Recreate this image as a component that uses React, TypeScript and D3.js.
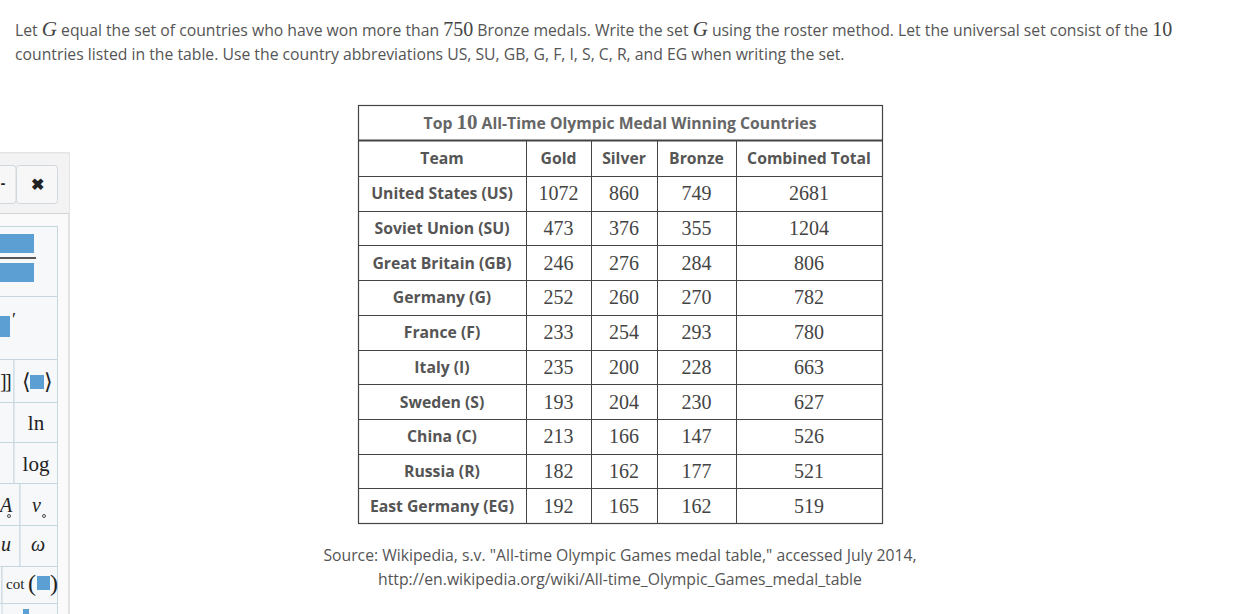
import React from "react";
import * as d3 from "d3";

const teams = [
  "United States (US)",
  "Soviet Union (SU)",
  "Great Britain (GB)",
  "Germany (G)",
  "France (F)",
  "Italy (I)",
  "Sweden (S)",
  "China (C)",
  "Russia (R)",
  "East Germany (EG)",
];
const gold = [1072, 473, 246, 252, 233, 235, 193, 213, 182, 192];
const silver = [860, 376, 276, 260, 254, 200, 204, 166, 162, 165];
const bronze = [749, 355, 284, 270, 293, 228, 230, 147, 177, 162];
const combined = [2681, 1204, 806, 782, 780, 663, 627, 526, 521, 519];
const columns = ["Team", "Gold", "Silver", "Bronze", "Combined Total"];

const W = 1259;
const H = 614;
const SANS = "'Open Sans', 'Noto Sans', sans-serif";
const SERIF = "'Liberation Serif', 'DejaVu Serif', serif";
const TEXT = "#555";
const LINE = "#444";
const FS = 15.75;

// layout
const tableLeft = 358;
const colWidths = [168, 65, 66, 79, 146];
const titleTop = 105;
const headTop = 140;
const bodyTop = 176;
const bodyBottom = 523;

export default function App() {
  const edges = [tableLeft, ...Array.from(d3.cumsum(colWidths), (c) => tableLeft + c)];
  const colX = d3.scaleOrdinal<string, number>().domain(columns).range(edges.slice(0, -1));
  const colW = (c: string) => colWidths[columns.indexOf(c)];
  const y = d3.scaleBand<string>().domain(teams).range([bodyTop, bodyBottom]).padding(0);
  const tableRight = edges[edges.length - 1];
  const midX = (tableLeft + tableRight) / 2;

  const rows = teams.map((t, i) => ({
    team: t,
    vals: [gold[i], silver[i], bronze[i], combined[i]],
  }));

  return (
    <svg
      width={W}
      height={H}
      style={{ display: "block", background: "#fff", position: "fixed", left: 0, top: 0 }}
    >
      {/* Intro text */}
      <text x={15} y={36} fontFamily={SANS} fontSize={FS} fill={TEXT}>
        Let{" "}
        <tspan fontFamily={SERIF} fontStyle="italic" fontSize={21} fill="#444">G</tspan>
        {" "}equal the set of countries who have won more than{" "}
        <tspan fontFamily={SERIF} fontSize={20} fill="#444">750</tspan>
        {" "}Bronze medals. Write the set{" "}
        <tspan fontFamily={SERIF} fontStyle="italic" fontSize={21} fill="#444">G</tspan>
        {" "}using the roster method. Let the universal set consist of the{" "}
        <tspan fontFamily={SERIF} fontSize={20} fill="#444">10</tspan>
      </text>
      <text x={15} y={60} fontFamily={SANS} fontSize={FS} fill={TEXT}>
        countries listed in the table. Use the country abbreviations US, SU, GB, G, F, I, S, C, R, and EG when writing the set.
      </text>

      {/* Left side widget */}
      <g>
        <rect x={-2} y={153} width={71} height={470} fill="#fafafa" stroke="#c9c9c9" />
        <rect x={-2} y={153.5} width={71} height={60} fill="#f3f3f3" stroke="none" />
        <line x1={-2} x2={69} y1={213.5} y2={213.5} stroke="#d5d5d5" />
        <rect x={-6} y={165.5} width={22} height={38} rx={3} fill="#f7f7f7" stroke="#d0d8de" />
        <rect x={16.5} y={165.5} width={41} height={38} rx={3} fill="#f7f7f7" stroke="#d0d8de" />
        <text x={3} y={188} fontFamily={SANS} fontWeight="bold" fontSize={14} fill="#222" textAnchor="middle">-</text>
        <text x={37} y={190} fontFamily={SANS} fontWeight="bold" fontSize={16} fill="#222" textAnchor="middle">✖</text>
        {/* grid */}
        <g fill="#f6f8f9" stroke="#c6d7e0">
          <rect x={-2} y={226.5} width={59.5} height={70} />
          <rect x={-2} y={296.5} width={59.5} height={63} />
          <rect x={-2} y={359.5} width={16} height={43} />
          <rect x={14} y={359.5} width={43.5} height={43} />
          <rect x={-2} y={402.5} width={16} height={40} />
          <rect x={14} y={402.5} width={43.5} height={40} />
          <rect x={-2} y={442.5} width={16} height={41} />
          <rect x={14} y={442.5} width={43.5} height={41} />
          <rect x={-2} y={483.5} width={22} height={42} />
          <rect x={20} y={483.5} width={37.5} height={42} />
          <rect x={-2} y={525.5} width={22} height={41} />
          <rect x={20} y={525.5} width={37.5} height={41} />
          <rect x={-2} y={566.5} width={4} height={37} />
          <rect x={2} y={566.5} width={55.5} height={37} />
          <rect x={2} y={603.5} width={55.5} height={30} />
        </g>
        <rect x={0} y={234} width={34} height={19} fill="#5b9fd3" />
        <line x1={0} x2={36} y1={258} y2={258} stroke="#222" strokeWidth={1.5} />
        <rect x={0} y={263} width={34} height={19} fill="#5b9fd3" />
        <rect x={0} y={316} width={10} height={21} fill="#5b9fd3" />
        <text x={12} y={326} fontFamily={SERIF} fontSize={18} fill="#222">′</text>
        <text x={0} y={388} fontFamily={SERIF} fontSize={20} fill="#222">]</text>
        <text x={5} y={388} fontFamily={SERIF} fontSize={20} fill="#222">]</text>
        <text x={22} y={389} fontFamily={SERIF} fontSize={22} fill="#222">⟨</text>
        <rect x={30} y={375} width={14} height={14} fill="#5b9fd3" />
        <text x={44} y={389} fontFamily={SERIF} fontSize={22} fill="#222">⟩</text>
        <text x={36} y={430} fontFamily={SERIF} fontSize={21} fill="#222" textAnchor="middle">ln</text>
        <text x={36} y={471} fontFamily={SERIF} fontSize={21} fill="#222" textAnchor="middle">log</text>
        <text x={0} y={512} fontFamily={SERIF} fontStyle="italic" fontSize={20} fill="#222">A</text>
        <circle cx={9} cy={516} r={1.5} fill="none" stroke="#222" strokeWidth={0.8} />
        <text x={32} y={512} fontFamily={SERIF} fontStyle="italic" fontSize={20} fill="#222">ν</text>
        <circle cx={44} cy={516} r={1.5} fill="none" stroke="#222" strokeWidth={0.8} />
        <text x={1} y={551} fontFamily={SERIF} fontStyle="italic" fontSize={20} fill="#222">u</text>
        <text x={38} y={551} fontFamily={SERIF} fontStyle="italic" fontSize={20} fill="#222" textAnchor="middle">ω</text>
        <text x={6} y={589} fontFamily={SERIF} fontSize={15} fill="#222">cot</text>
        <text x={28} y={591} fontFamily={SERIF} fontSize={24} fill="#222">(</text>
        <rect x={37} y={576} width={13} height={14} fill="#5b9fd3" />
        <text x={50} y={591} fontFamily={SERIF} fontSize={24} fill="#222">)</text>
        <rect x={23} y={609} width={6} height={6} fill="#5b9fd3" />
      </g>

      {/* Table */}
      <g>
        <text x={midX} y={129} textAnchor="middle" fontFamily={SANS} fontWeight="bold" fontSize={FS} fill="#666">
          Top <tspan fontFamily={SERIF} fontSize={21} fontWeight="bold">10</tspan> All-Time Olympic Medal Winning Countries
        </text>
        {columns.map((c) => (
          <text
            key={c}
            x={colX(c) + colW(c) / 2}
            y={164}
            textAnchor="middle"
            fontFamily={SANS}
            fontWeight="bold"
            fontSize={FS}
            fill="#555"
          >
            {c}
          </text>
        ))}
        {rows.map((r) => (
          <g key={r.team}>
            <text
              x={colX("Team") + colW("Team") / 2}
              y={(y(r.team) as number) + y.bandwidth() / 2 + 6}
              textAnchor="middle"
              fontFamily={SANS}
              fontWeight="bold"
              fontSize={FS}
              fill="#555"
            >
              {r.team}
            </text>
            {r.vals.map((v, j) => {
              const c = columns[j + 1];
              return (
                <text
                  key={c}
                  x={colX(c) + colW(c) / 2}
                  y={(y(r.team) as number) + y.bandwidth() / 2 + 7}
                  textAnchor="middle"
                  fontFamily={SERIF}
                  fontSize={20}
                  fill="#444"
                >
                  {v}
                </text>
              );
            })}
          </g>
        ))}
        {/* grid lines */}
        <g stroke={LINE} fill="none">
          <rect x={tableLeft + 0.5} y={titleTop + 0.5} width={tableRight - tableLeft} height={bodyBottom - titleTop} strokeWidth={1.2} />
          <line x1={tableLeft} x2={tableRight + 1} y1={headTop + 0.5} y2={headTop + 0.5} strokeWidth={2} />
          <line x1={tableLeft} x2={tableRight} y1={bodyTop + 0.5} y2={bodyTop + 0.5} />
          {teams.slice(1).map((t) => (
            <line key={t} x1={tableLeft} x2={tableRight} y1={Math.round(y(t) as number) + 0.5} y2={Math.round(y(t) as number) + 0.5} />
          ))}
          {edges.slice(1, -1).map((e, i) => (
            <line key={i} x1={e + 0.5} x2={e + 0.5} y1={headTop} y2={bodyBottom} />
          ))}
        </g>
      </g>

      {/* Source */}
      <text x={620} y={561} textAnchor="middle" fontFamily={SANS} fontSize={FS} fill={TEXT}>
        Source: Wikipedia, s.v. "All-time Olympic Games medal table," accessed July 2014,
      </text>
      <text x={620} y={585} textAnchor="middle" fontFamily={SANS} fontSize={FS} fill={TEXT}>
        http://en.wikipedia.org/wiki/All-time_Olympic_Games_medal_table
      </text>
    </svg>
  );
}
